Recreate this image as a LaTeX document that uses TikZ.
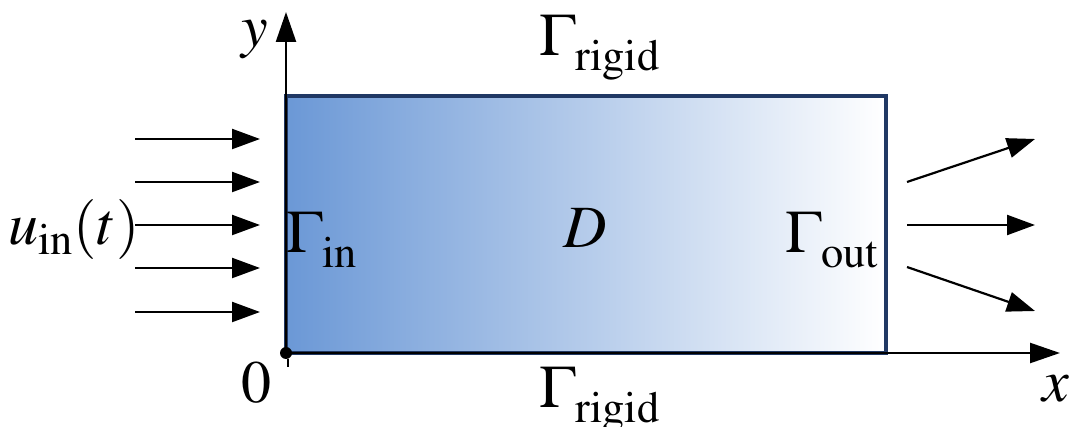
\documentclass[tikz,border=0pt]{standalone}
\usepackage{mathptmx}
\usetikzlibrary{arrows.meta}
\definecolor{domblue}{RGB}{107,152,214}
\definecolor{framenavy}{RGB}{32,56,100}

\begin{document}
\begin{tikzpicture}[x=.5pt,y=-.5pt,font=\fontsize{30}{36}\selectfont,
    flow/.style={line width=1.1pt,-{Triangle[length=14pt,width=10pt]}},
    axis/.style={line width=1.2pt,-{Triangle[length=15pt,width=10pt]}},
    lbl/.style={inner sep=0pt}]
    \useasboundingbox (0,0) rectangle (1082,427);
    % domain
    \shade[left color=domblue,right color=white] (286,96) rectangle (886,353);
    \draw[framenavy,line width=1.8pt] (286,96) rectangle (886,353);
    % axes
    \coordinate (o) at (286,353);
    \coordinate (xend) at (1060,353);
    \coordinate (yend) at (286,12);
    \draw[axis] (o) -- (xend);
    \draw[axis] (o) -- (yend);
    \fill (o) circle (3pt);
    \coordinate (tka) at (288,359); \coordinate (tkb) at (288,367);
    \draw[line width=.8pt] (tka) -- (tkb);
    % inflow
    \foreach \i/\yy in {1/139,2/182,3/225,4/268,5/312} {
      \coordinate (in\i) at (135,\yy);
      \coordinate (inend\i) at (260,\yy);
      \draw[flow] (in\i) -- (inend\i);
    }
    % outflow
    \coordinate (out1) at (907,182); \coordinate (outend1) at (1035,139);
    \coordinate (out2) at (907,225); \coordinate (outend2) at (1035,225);
    \coordinate (out3) at (907,267); \coordinate (outend3) at (1035,311);
    \foreach \i in {1,2,3} \draw[flow] (out\i) -- (outend\i);
    % labels
    \node[lbl] (ylbl) at (255,40) {$y$};
    \node[lbl] (xlbl) at (1056,389) {$x$};
    \node[lbl] (zero) at (256,383) {$0$};
    \node[lbl] (rigtop) at (600,48) {$\Gamma_{\raisebox{-3pt}{$\scriptstyle\mathrm{rigid}$}}$};
    \node[lbl] (rigbot) at (600,400) {$\Gamma_{\raisebox{-3pt}{$\scriptstyle\mathrm{rigid}$}}$};
    \node[lbl] (gin) at (322,240) {$\Gamma_{\raisebox{-3pt}{$\scriptstyle\mathrm{in}$}}$};
    \node[lbl] (dom) at (585,228) {$D$};
    \node[lbl] (gout) at (832,240) {$\Gamma_{\raisebox{-3pt}{$\scriptstyle\mathrm{out}$}}$};
    \node[lbl] (uin) at (74,230) {$u_{\mathrm{in}}(t)$};
\end{tikzpicture}
\end{document}
